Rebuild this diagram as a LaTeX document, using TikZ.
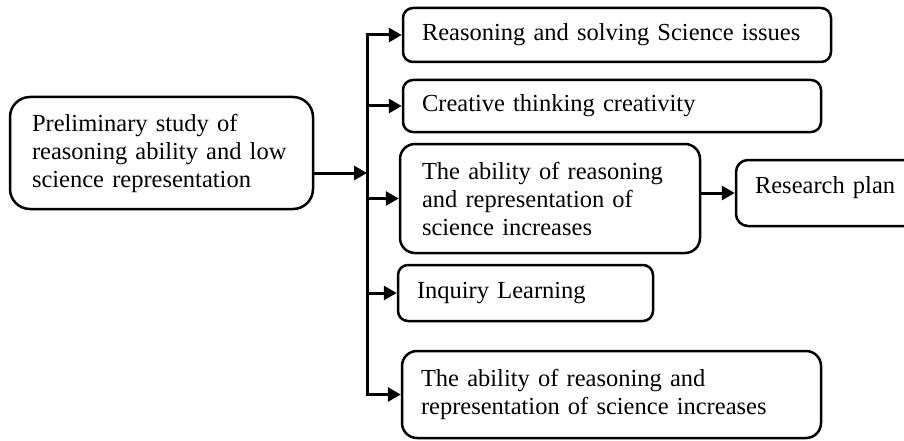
\documentclass[tikz,border=0pt]{standalone}
\usepackage{fontspec}
\setmainfont{Liberation Serif}
\usetikzlibrary{arrows.meta}

\tikzset{
  box/.style={draw, line width=2.5pt, rounded corners=10pt, align=left,
    font=\fontsize{24.5}{28}\selectfont, inner xsep=19pt, inner ysep=0pt},
  tip/.tip={Triangle[length=13pt,width=14pt]},
  link/.style={line width=3pt, -tip},
}

\begin{document}
\begin{tikzpicture}[x=1pt, y=-1pt]
  \useasboundingbox (0,0) rectangle (904,441);

  % source box on the left
  \node[box, rounded corners=20pt, inner xsep=22pt, text width=259pt,
        minimum height=112pt] (prelim) at (161.5,153)
    {Preliminary study of\\reasoning ability and low\\science representation};

  % branch boxes
  \node[box, text width=390pt, minimum height=54pt] (reason) at (617,35)
    {Reasoning and solving Science issues};
  \node[box, text width=380pt, minimum height=52pt] (creative) at (612,106)
    {Creative thinking creativity};
  \node[box, rounded corners=15pt, inner xsep=22pt, text width=256pt,
        minimum height=109pt] (ability) at (550,198.5)
    {The ability of reasoning\\and representation of\\science increases};
  \node[box, rounded corners=12pt, text width=156pt, text height=17pt,
        text depth=17pt, minimum height=66pt] (plan) at (833,193)
    {Research plan};
  \node[box, text width=217pt, minimum height=56pt] (inquiry) at (525.5,293)
    {Inquiry Learning};
  \node[box, rounded corners=15pt, text width=381pt, minimum height=87pt]
    (result) at (611.5,394.5)
    {The ability of reasoning and\\representation of science increases};

  % trunk of the branching connector
  \coordinate (hub) at (367,173);
  \draw[link] (prelim.east |- hub) -- (hub);
  \draw[link, tip-tip]
    (reason.west) -- (hub |- reason.west) -- (hub |- result.west) -- (result.west);
  \draw[link] (hub |- creative.west) -- (creative.west);
  \draw[link] (hub |- ability.west) -- (ability.west);
  \draw[link] (hub |- inquiry.west) -- (inquiry.west);

  % onward step to the plan
  \draw[link] (ability.east |- plan.west) -- (plan.west);
\end{tikzpicture}
\end{document}
